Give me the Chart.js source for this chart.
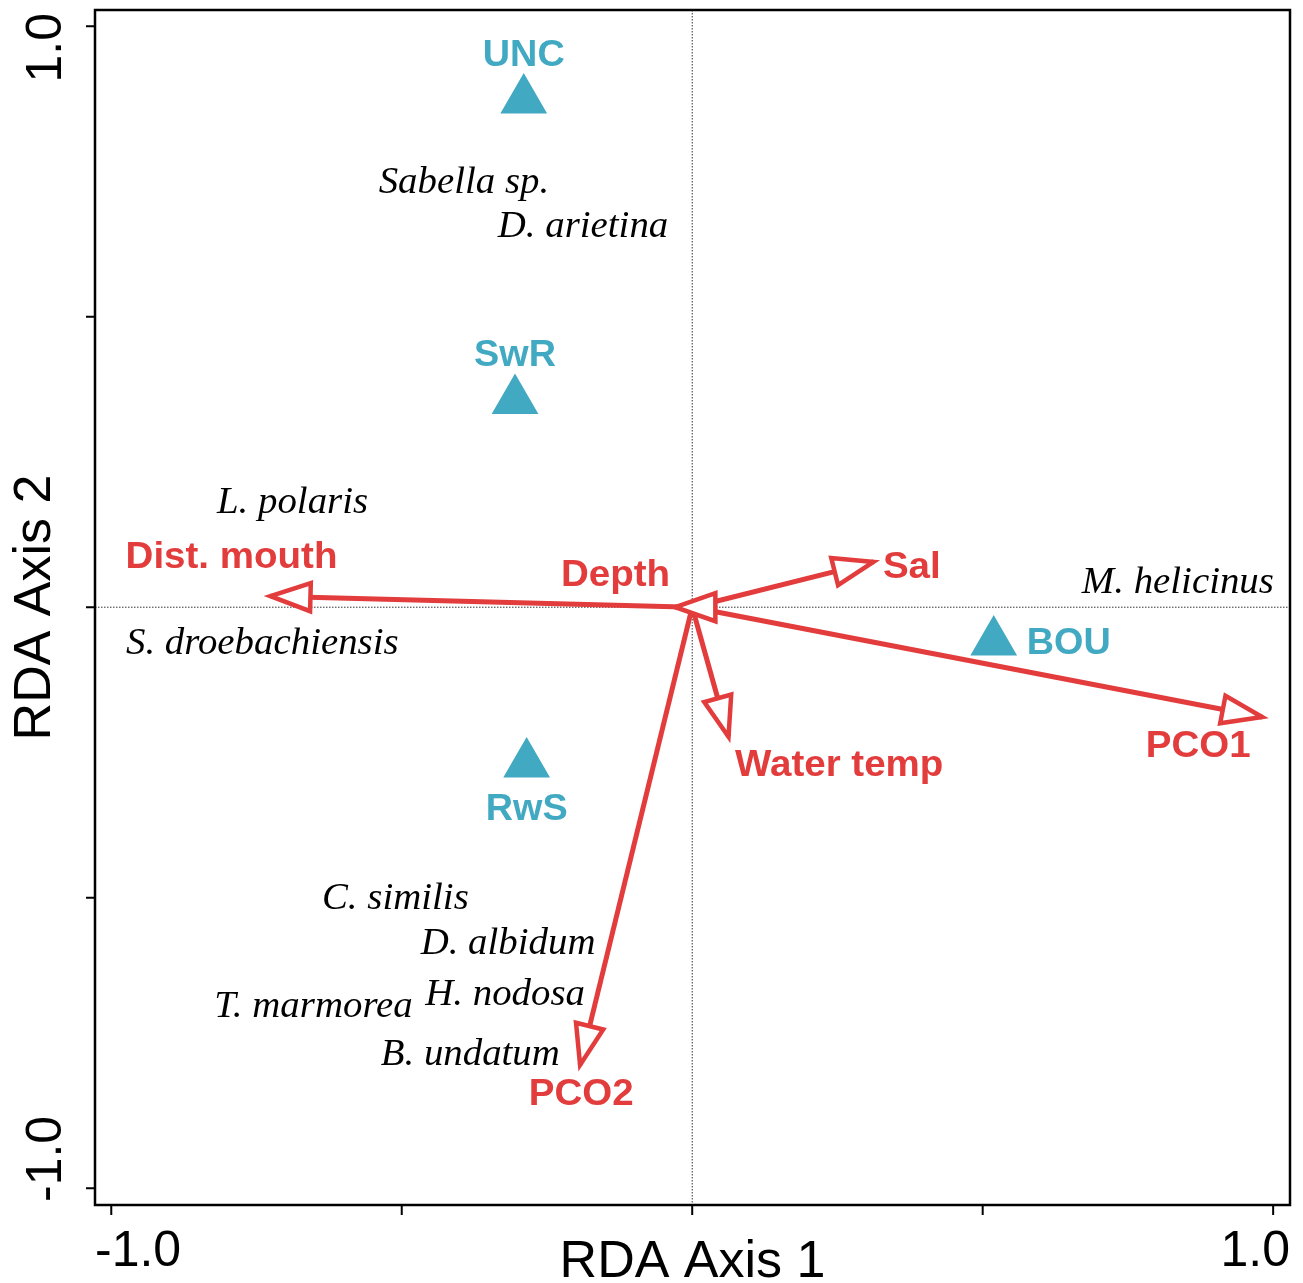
<!DOCTYPE html>
<html>
<head>
<meta charset="utf-8">
<title>RDA biplot</title>
<script src="https://cdn.jsdelivr.net/npm/chart.js@4.4.1/dist/chart.umd.min.js"></script>
<style>
  html, body { margin: 0; padding: 0; background: #fff; }
  canvas { display: block; }
</style>
</head>
<body>
<canvas id="rda" width="1303" height="1283"></canvas>
<script>
// site scores (triangles)
const siteNames = ['UNC', 'SwR', 'RwS', 'BOU'];
const siteX = [-0.290, -0.305, -0.285, 0.519];
const siteY = [0.873, 0.356, -0.270, -0.060];
const siteLabelSide = ['top', 'top', 'bottom', 'right'];

// environmental vectors (arrow tips) and where their labels sit
const envNames = ['Dist. mouth', 'Depth', 'Sal', 'Water temp', 'PCO1', 'PCO2'];
const envX = [-0.726, -0.029, 0.312, 0.0625, 0.981, -0.193];
const envY = [0.019, 0.000, 0.078, -0.223, -0.189, -0.788];
const envLabelX = [-0.793, -0.132, 0.378, 0.253, 0.871, -0.191];
const envLabelY = [0.090, 0.058, 0.073, -0.269, -0.236, -0.834];

// species scores (italic text only)
const speciesNames = ['Sabella sp.', 'D. arietina', 'L. polaris', 'S. droebachiensis', 'M. helicinus',
  'C. similis', 'D. albidum', 'H. nodosa', 'T. marmorea', 'B. undatum'];
const speciesX = [-0.393, -0.188, -0.688, -0.740, 0.836, -0.511, -0.317, -0.322, -0.652, -0.382];
const speciesY = [0.733, 0.657, 0.182, -0.060, 0.045, -0.499, -0.576, -0.664, -0.685, -0.768];

const axisTicks = [-1, -0.5, 0, 0.5, 1];
const xTickLabels = ['-1.0', '1.0'];
const yTickLabels = ['-1.0', '1.0'];
const xTitle = 'RDA Axis 1';
const yTitle = 'RDA Axis 2';

const RED = '#E23C3C';
const TEAL = '#41A9C2';

// text a little wider than the font gives, as in the original figure
function wideText(ctx, str, x, y, sx) {
  ctx.save();
  ctx.translate(x, y);
  ctx.scale(sx, 1);
  ctx.fillText(str, 0, 0);
  ctx.restore();
}

// dotted zero lines
const zeroLines = {
  id: 'zeroLines',
  beforeDatasetsDraw(chart) {
    const { ctx, chartArea: a, scales: { x, y } } = chart;
    ctx.save();
    ctx.strokeStyle = '#333';
    ctx.lineWidth = 1;
    ctx.setLineDash([1.5, 1.5]);
    ctx.beginPath();
    ctx.moveTo(x.getPixelForValue(0), a.top);
    ctx.lineTo(x.getPixelForValue(0), a.bottom);
    ctx.moveTo(a.left, y.getPixelForValue(0));
    ctx.lineTo(a.right, y.getPixelForValue(0));
    ctx.stroke();
    ctx.restore();
  }
};

// open triangle heads at the end of every env arrow
const arrowHeads = {
  id: 'arrowHeads',
  afterDatasetsDraw(chart) {
    const { ctx } = chart;
    ctx.save();
    chart.data.datasets.forEach((ds, i) => {
      if (!ds.isArrow) return;
      const pts = chart.getDatasetMeta(i).data;
      const p0 = pts[0], p1 = pts[1];
      const ang = Math.atan2(p1.y - p0.y, p1.x - p0.x);
      const len = 40, half = 14;
      const bx = p1.x - Math.cos(ang) * len, by = p1.y - Math.sin(ang) * len;
      ctx.beginPath();
      ctx.moveTo(p1.x, p1.y);
      ctx.lineTo(bx - Math.sin(ang) * half, by + Math.cos(ang) * half);
      ctx.lineTo(bx + Math.sin(ang) * half, by - Math.cos(ang) * half);
      ctx.closePath();
      ctx.fillStyle = '#fff';
      ctx.fill();
      ctx.strokeStyle = RED;
      ctx.lineWidth = 4.5;
      ctx.lineJoin = 'miter';
      ctx.stroke();
    });
    ctx.restore();
  }
};

// species, env and site text labels
const textLabels = {
  id: 'textLabels',
  afterDatasetsDraw(chart) {
    const { ctx, scales: { x, y } } = chart;
    const nudge = 3;
    ctx.save();
    ctx.textAlign = 'center';
    ctx.textBaseline = 'middle';

    ctx.fillStyle = '#000';
    ctx.font = 'italic 37px "Liberation Serif", "DejaVu Serif", serif';
    speciesNames.forEach((n, i) => {
      wideText(ctx, n, x.getPixelForValue(speciesX[i]), y.getPixelForValue(speciesY[i]) + 2, 1.05);
    });

    ctx.fillStyle = RED;
    ctx.font = 'bold 36px "Liberation Sans", Arial, sans-serif';
    envNames.forEach((n, i) => {
      wideText(ctx, n, x.getPixelForValue(envLabelX[i]), y.getPixelForValue(envLabelY[i]) + nudge, 1.07);
    });

    ctx.fillStyle = TEAL;
    siteNames.forEach((n, i) => {
      const px = x.getPixelForValue(siteX[i]);
      const py = y.getPixelForValue(siteY[i]) + nudge;
      if (siteLabelSide[i] === 'top') {
        ctx.textAlign = 'center';
        wideText(ctx, n, px, py - 47, 1.05);
      } else if (siteLabelSide[i] === 'bottom') {
        ctx.textAlign = 'center';
        wideText(ctx, n, px, py + 43, 1.05);
      } else {
        ctx.textAlign = 'left';
        wideText(ctx, n, px + 33, py - 1, 1.05);
      }
    });
    ctx.restore();
  }
};

// box, outward ticks, end labels and titles like base R
const frame = {
  id: 'frame',
  afterDraw(chart) {
    const { ctx, chartArea: a, scales: { x, y } } = chart;
    ctx.save();
    ctx.strokeStyle = '#000';
    ctx.lineWidth = 2.5;
    ctx.strokeRect(a.left, a.top, a.right - a.left, a.bottom - a.top);

    ctx.lineWidth = 2;
    ctx.beginPath();
    axisTicks.forEach(t => {
      const px = x.getPixelForValue(t);
      ctx.moveTo(px, a.bottom);
      ctx.lineTo(px, a.bottom + 10);
      const py = y.getPixelForValue(t);
      ctx.moveTo(a.left, py);
      ctx.lineTo(a.left - 9, py);
    });
    ctx.stroke();

    ctx.fillStyle = '#000';
    ctx.font = '50px "Liberation Sans", Arial, sans-serif';
    ctx.textBaseline = 'middle';
    ctx.textAlign = 'left';
    ctx.fillText(xTickLabels[0], a.left, a.bottom + 47);
    ctx.textAlign = 'right';
    ctx.fillText(xTickLabels[1], a.right, a.bottom + 47);

    ctx.save();
    ctx.translate(a.left - 48, a.bottom - 3);
    ctx.rotate(-Math.PI / 2);
    ctx.textAlign = 'left';
    ctx.fillText(yTickLabels[0], 0, 0);
    ctx.restore();
    ctx.save();
    ctx.translate(a.left - 48, a.top + 3);
    ctx.rotate(-Math.PI / 2);
    ctx.textAlign = 'right';
    ctx.fillText(yTickLabels[1], 0, 0);
    ctx.restore();

    ctx.font = '52px "Liberation Sans", Arial, sans-serif';
    ctx.textAlign = 'center';
    ctx.fillText(xTitle, (a.left + a.right) / 2, a.bottom + 58);
    ctx.save();
    ctx.translate(36, (a.top + a.bottom) / 2);
    ctx.rotate(-Math.PI / 2);
    ctx.fillText(yTitle, 0, 0);
    ctx.restore();
    ctx.restore();
  }
};

const datasets = [{
  label: 'Sites',
  data: siteX.map((v, i) => ({ x: v, y: siteY[i] })),
  pointStyle: 'triangle',
  pointRadius: 25,
  pointHoverRadius: 25,
  backgroundColor: TEAL,
  borderColor: TEAL,
  pointBorderWidth: 2,
  order: 0
}];

envNames.forEach((n, i) => {
  datasets.push({
    label: n,
    isArrow: true,
    data: [{ x: 0, y: 0 }, { x: envX[i], y: envY[i] }],
    showLine: true,
    borderColor: RED,
    borderWidth: 5,
    pointRadius: 0,
    pointHoverRadius: 0,
    order: 1
  });
});

new Chart(document.getElementById('rda'), {
  type: 'scatter',
  data: { datasets },
  options: {
    responsive: false,
    animation: false,
    devicePixelRatio: 1,
    layout: { autoPadding: false, padding: { left: 95, right: 13, top: 10, bottom: 78 } },
    scales: {
      x: { type: 'linear', min: -1.028, max: 1.029, display: false },
      y: { type: 'linear', min: -1.029, max: 1.028, display: false }
    },
    plugins: {
      legend: { display: false },
      tooltip: { enabled: false }
    }
  },
  plugins: [zeroLines, arrowHeads, textLabels, frame]
});
</script>
</body>
</html>
